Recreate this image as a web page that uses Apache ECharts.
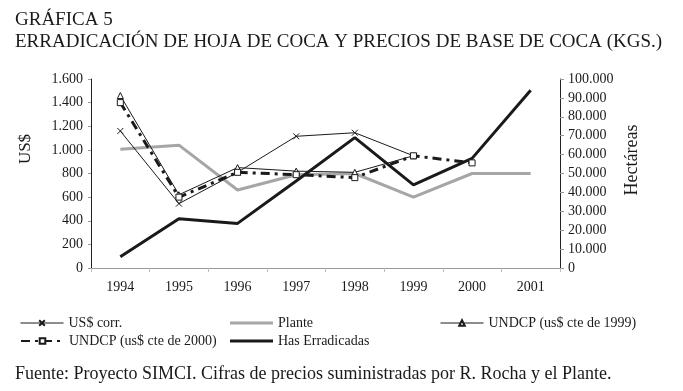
<!DOCTYPE html>
<html>
<head>
<meta charset="utf-8">
<script src="https://cdn.jsdelivr.net/npm/echarts@6/dist/echarts.min.js"></script>
<style>
  html, body { margin: 0; padding: 0; background: #fff; }
  #chart { width: 683px; height: 391px; }
</style>
</head>
<body>
<div id="chart"></div>
<script>
// datos
var years = ['1994', '1995', '1996', '1997', '1998', '1999', '2000', '2001'];
var usCorr = [1160, 545, 810, 1115, 1145, 950, null, null];
var plante = [1005, 1040, 660, 790, 800, 600, 800, 800];
var undcp1999 = [1460, 620, 850, 820, 810, 950, null, null];
var undcp2000 = [1400, 600, 810, 790, 765, 950, 890, null];
var hasErradicadas = [6000, 26000, 23600, 46000, 69000, 44000, 58000, 94000];

var serif = '"Liberation Serif", "DejaVu Serif", serif';
var ink = '#1a1a1a';
var gris = '#a6a6a6';

function thousands(v) {
    return String(v).replace(/\B(?=(\d{3})+(?!\d))/g, '.');
}

var crossSymbol = 'path://M0,0L10,10M10,0L0,10';

var myChart = echarts.init(document.getElementById('chart'), null, {renderer: 'canvas'});

var legendText = {fontFamily: serif, fontSize: 14, color: ink};

// una leyenda por elemento para ubicarlas como en el original
function legendItem(left, top, item, extra) {
    var l = {
        left: left, top: top,
        itemWidth: 43, itemHeight: 7, itemGap: 0,
        textStyle: legendText,
        data: [item]
    };
    for (var k in extra) l[k] = extra[k];
    return l;
}

var option = {
    backgroundColor: '#fff',
    animation: false,
    textStyle: {fontFamily: serif, color: ink},

    title: [
        {
            text: 'GRÁFICA 5',
            left: 10, top: 6,
            textStyle: {fontFamily: serif, fontSize: 19, fontWeight: 'normal', color: ink}
        },
        {
            text: 'ERRADICACIÓN DE HOJA DE COCA Y PRECIOS DE BASE DE COCA (KGS.)',
            left: 10, top: 28,
            textStyle: {fontFamily: serif, fontSize: 19, fontWeight: 'normal', color: ink}
        },
        {
            text: 'Fuente: Proyecto SIMCI. Cifras de precios suministradas por R. Rocha y el Plante.',
            left: 10, top: 360,
            textStyle: {fontFamily: serif, fontSize: 18, fontWeight: 'normal', color: ink}
        }
    ],

    legend: [
        legendItem(15, 311, 'US$ corr.', {lineStyle: {width: 1}}),
        legendItem(225, 311, {name: 'Plante', icon: 'rect'}, {itemHeight: 3}),
        legendItem(435, 311, 'UNDCP (us$ cte de 1999)', {lineStyle: {width: 1}}),
        legendItem(15, 329, 'UNDCP (us$ cte de 2000)', {}),
        legendItem(225, 329, {name: 'Has Erradicadas', icon: 'rect'}, {itemHeight: 3})
    ],

    grid: {left: 91, right: 123, top: 79, bottom: 123, containLabel: false},

    xAxis: {
        type: 'category',
        data: years,
        boundaryGap: true,
        axisLine: {lineStyle: {color: '#9a9a9a', width: 1}},
        axisTick: {show: true, alignWithLabel: false, length: 4, lineStyle: {color: '#bbbbbb'}},
        axisLabel: {fontFamily: serif, fontSize: 14, color: ink, margin: 12},
        splitLine: {show: false}
    },

    yAxis: [
        {
            type: 'value',
            min: 0, max: 1600, interval: 200,
            axisLine: {show: true, lineStyle: {color: '#222', width: 1}},
            axisTick: {show: true, length: 3, lineStyle: {color: '#999'}},
            axisLabel: {fontFamily: serif, fontSize: 14, color: ink, margin: 8, formatter: thousands},
            splitLine: {show: false}
        },
        {
            type: 'value',
            min: 0, max: 100000, interval: 10000,
            position: 'right',
            axisLine: {show: true, lineStyle: {color: '#222', width: 1}},
            axisTick: {show: true, length: 4, lineStyle: {color: '#999'}},
            axisLabel: {fontFamily: serif, fontSize: 14, color: ink, margin: 8, formatter: thousands},
            splitLine: {show: false}
        }
    ],

    // titulos de los ejes, rotados
    graphic: [
        {
            type: 'text', x: 26, y: 149, rotation: Math.PI / 2,
            style: {text: 'US$', font: '17px ' + serif, fill: ink, align: 'center', verticalAlign: 'middle'}
        },
        {
            type: 'text', x: 632, y: 160, rotation: Math.PI / 2,
            style: {text: 'Hectáreas', font: '18px ' + serif, fill: ink, align: 'center', verticalAlign: 'middle'}
        }
    ],

    series: [
        {
            name: 'US$ corr.',
            type: 'line',
            data: usCorr,
            symbol: crossSymbol,
            symbolSize: 6,
            lineStyle: {color: ink, width: 1},
            itemStyle: {color: ink, borderColor: ink, borderWidth: 1},
            z: 3
        },
        {
            name: 'Plante',
            type: 'line',
            data: plante,
            symbol: 'none',
            lineStyle: {color: gris, width: 3},
            itemStyle: {color: gris},
            z: 2
        },
        {
            name: 'UNDCP (us$ cte de 1999)',
            type: 'line',
            data: undcp1999,
            symbol: 'triangle',
            symbolSize: 6,
            lineStyle: {color: ink, width: 1},
            itemStyle: {color: '#fff', borderColor: ink, borderWidth: 1},
            z: 3
        },
        {
            name: 'UNDCP (us$ cte de 2000)',
            type: 'line',
            data: undcp2000,
            symbol: 'rect',
            symbolSize: 6,
            lineStyle: {color: ink, width: 3, type: [9, 5, 3, 5]},
            itemStyle: {color: '#fff', borderColor: ink, borderWidth: 1},
            z: 4
        },
        {
            name: 'Has Erradicadas',
            type: 'line',
            yAxisIndex: 1,
            data: hasErradicadas,
            symbol: 'none',
            lineStyle: {color: ink, width: 3},
            itemStyle: {color: ink},
            z: 2
        }
    ]
};

myChart.setOption(option);
</script>
</body>
</html>
